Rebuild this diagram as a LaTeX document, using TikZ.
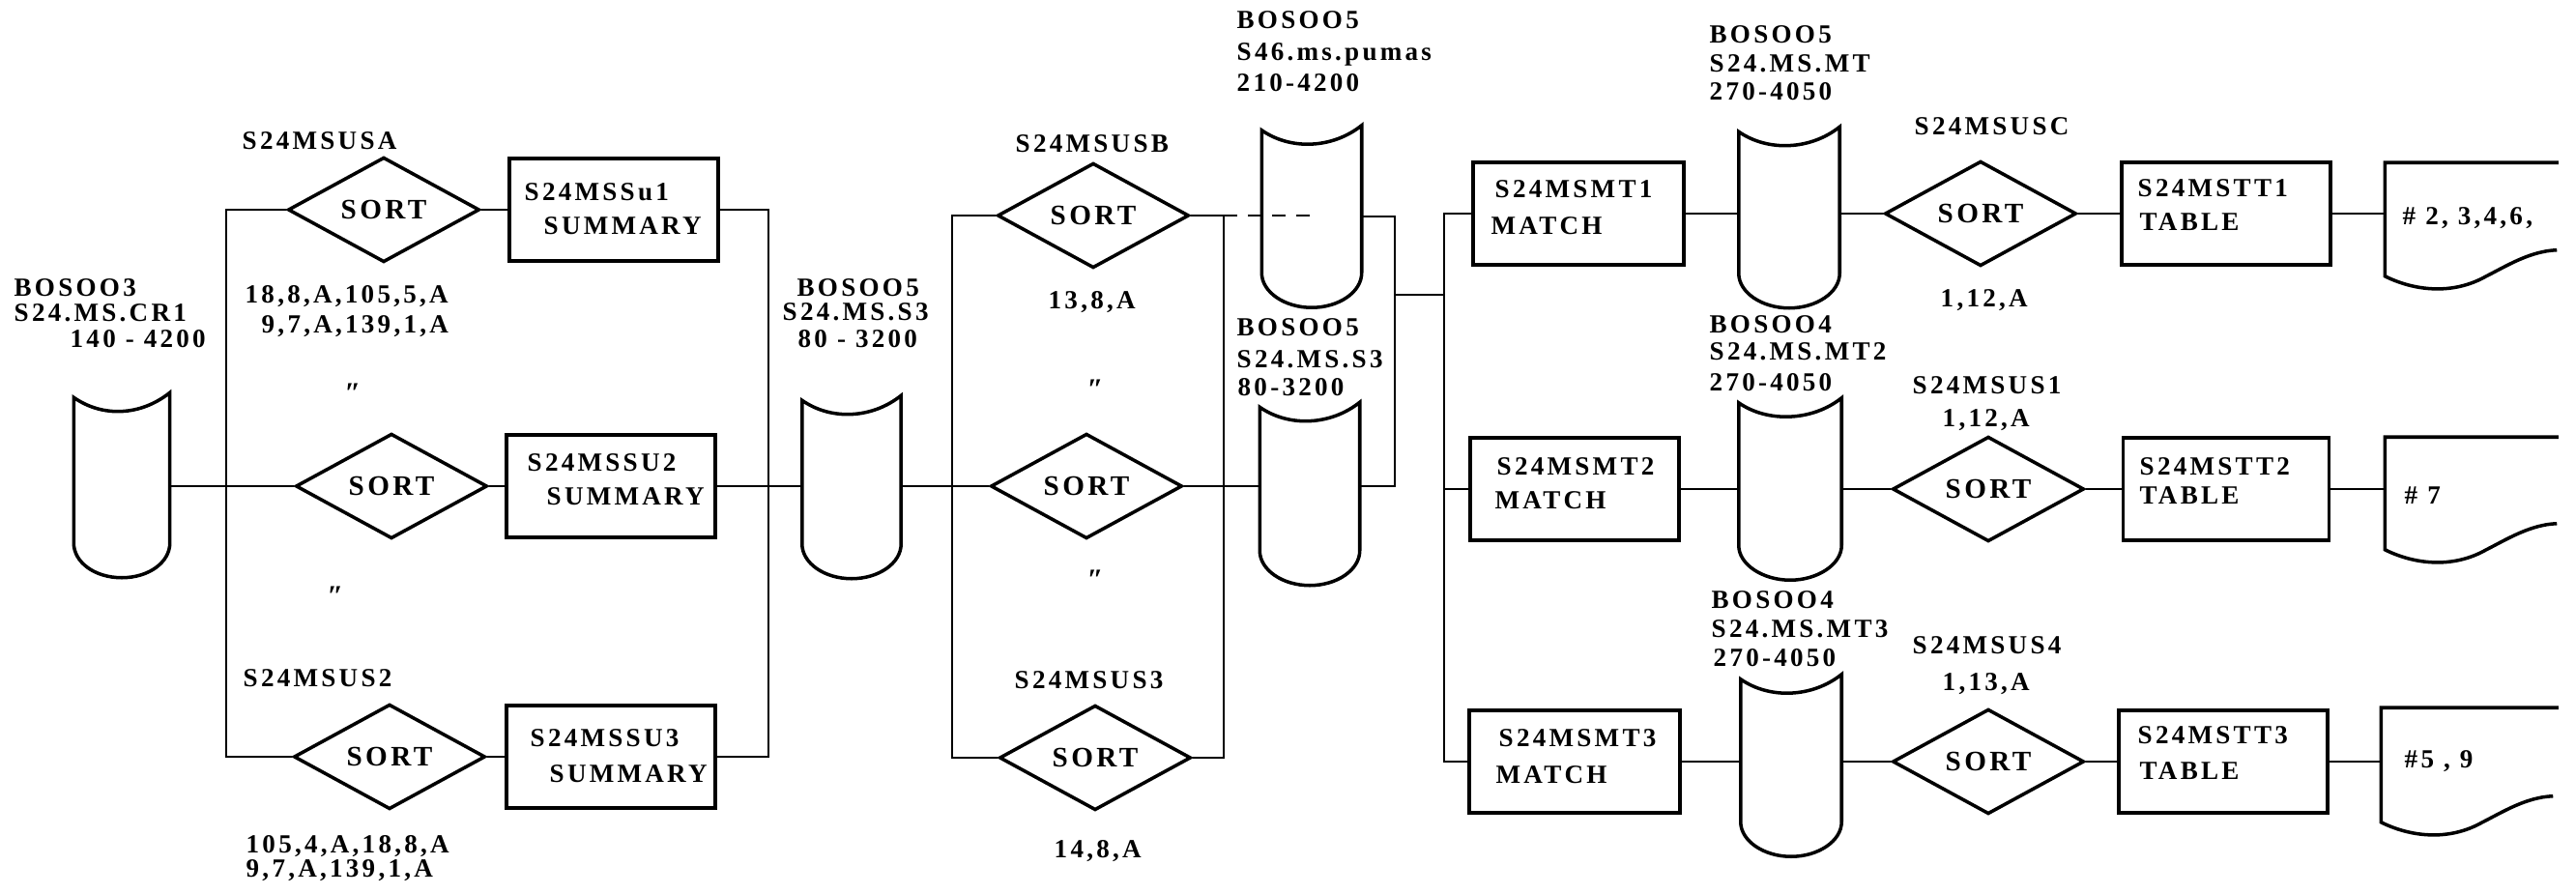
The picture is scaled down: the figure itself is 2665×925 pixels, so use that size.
\documentclass[tikz,border=0pt]{standalone}
\usepackage{fontspec}
\setmainfont{Liberation Serif}[LetterSpace=12]
\usetikzlibrary{shapes.geometric,calc}
\tikzset{
  shp/.style={draw, line width=1.0pt},
  ln/.style={draw, line width=0.75pt},
  boxn/.style={shp, rectangle, minimum height=1.06cm, inner sep=0pt},
  dia/.style={shp, diamond, minimum width=1.98cm, minimum height=0.99cm, inner sep=0pt, font=\fontsize{8.3}{9}\selectfont\bfseries},
  holder/.style={draw=none, rectangle, inner sep=0pt},
  txt/.style={inner sep=0pt, anchor=base west, yshift=-2.6pt, font=\fontsize{7.7}{9}\selectfont\bfseries},
  ditto/.style={inner sep=0pt, font=\fontsize{8.5}{9}\selectfont\bfseries\itshape}
}
\newcommand\tapedraw[1]{%
  \draw[shp] ($(#1.north west)+(0,5)$) .. controls ($(#1.north west)+(30,26)$) and ($(#1.north east)+(-30,24)$) .. (#1.north east)
    -- ($(#1.south east)+(0,-36)$) .. controls ($(#1.south east)+(0,-16)$) and ($(#1.south)+(28,0)$) .. (#1.south)
    .. controls ($(#1.south)+(-28,0)$) and ($(#1.south west)+(0,-16)$) .. ($(#1.south west)+(0,-36)$) -- cycle;}
\newcommand\docdraw[1]{%
  \draw[shp] (#1.north east) -- (#1.north west) -- (#1.south west)
    .. controls ($(#1.south west)+(30,15)$) and ($(#1.south west)+(70,20)$) .. ($(#1.south west)+(105,0)$)
    .. controls ($(#1.south west)+(125,-10)$) and ($(#1.south west)+(150,-26)$) .. ($(#1.south west)+(178,-27)$);}
\begin{document}
\begin{tikzpicture}[x=0.01cm,y=-0.01cm]
\useasboundingbox (0,0) rectangle (2665,925);

% ---------- group 1 ----------
\node[holder, minimum width=0.98cm, minimum height=1.90cm] (t1) at (126,502) {};
\tapedraw{t1}
\node[dia] (d1) at (397,217) {SORT};
\node[dia] (d2) at (405,503) {SORT};
\node[dia] (d3) at (403,783) {SORT};
\node[boxn, minimum width=2.16cm] (b1) at (635,217) {};
\node[boxn, minimum width=2.16cm] (b2) at (632,503) {};
\node[boxn, minimum width=2.16cm] (b3) at (632,783) {};
\coordinate (b1l) at (234,503);
\coordinate (b1r) at (795,503);
\node[holder, minimum width=1.01cm, minimum height=1.88cm] (t2) at (881,504) {};
\tapedraw{t2}

\draw[ln] (t1.east |- d2.west) -- (d2.west);
\draw[ln] (d1.west) -| (b1l) |- (d3.west);
\draw[ln] (d1.east) -- (d1.east -| b1.west);
\draw[ln] (d2.east) -- (d2.east -| b2.west);
\draw[ln] (d3.east) -- (d3.east -| b3.west);
\draw[ln] (b1.east) -| (b1r) |- (b3.east);
\draw[ln] (b2.east) -- (b2.east -| t2.west);

\node[txt] (l1a) at (14,297) {BOSOO3};
\node[txt] (l1b) at (14,323) {S24.MS.CR1};
\node[txt] (l1c) at (72,350) {140 - 4200};
\node[txt] (l2) at (250,145) {S24MSUSA};
\node[txt] (l3a) at (253,304) {18,8,A,105,5,A};
\node[txt] (l3b) at (270,335) {9,7,A,139,1,A};
\node[ditto] (dt1) at (365,407) {″};
\node[ditto] (dt2) at (347,617) {″};
\node[txt] (l4) at (251,701) {S24MSUS2};
\node[txt] (l5a) at (254,873) {105,4,A,18,8,A};
\node[txt] (l5b) at (254,898) {9,7,A,139,1,A};
\node[txt] (b1a) at (542,198) {S24MSSu1};
\node[txt] (b1b) at (562,233) {SUMMARY};
\node[txt] (b2a) at (545,478) {S24MSSU2};
\node[txt] (b2b) at (565,513) {SUMMARY};
\node[txt] (b3a) at (548,763) {S24MSSU3};
\node[txt] (b3b) at (568,800) {SUMMARY};

% ---------- group 2 ----------
\node[dia] (d4) at (1131,223) {SORT};
\node[dia] (d5) at (1124,503) {SORT};
\node[dia] (d6) at (1133,784) {SORT};
\coordinate (b2l) at (985,503);
\coordinate (b2r) at (1266,503);
\node[holder, minimum width=1.02cm, minimum height=1.87cm] (s46) at (1357,224) {};
\tapedraw{s46}
\node[holder, minimum width=1.02cm, minimum height=1.88cm] (t3) at (1355,511) {};
\tapedraw{t3}
\coordinate (j1) at (1443,305);

\draw[ln] (t2.east |- d5.west) -- (d5.west);
\draw[ln] (d4.west) -| (b2l) |- (d6.west);
\draw[ln] (d4.east) -| (b2r) |- (d6.east);
\draw[ln, dash pattern=on 0.14cm off 0.11cm] (d4.east -| b2r) -- (d4.east -| s46.center);
\draw[ln] (d5.east) -- (d5.east -| t3.west);
\draw[ln] (s46.east) -| (j1) |- (t3.east |- d5.east);

\node[txt] (l6a) at (824,297) {BOSOO5};
\node[txt] (l6b) at (809,322) {S24.MS.S3};
\node[txt] (l6c) at (825,350) {80 - 3200};
\node[txt] (l7) at (1050,148) {S24MSUSB};
\node[txt] (l8) at (1084,310) {13,8,A};
\node[ditto] (dt3) at (1133,403) {″};
\node[ditto] (dt4) at (1133,600) {″};
\node[txt] (l9) at (1049,703) {S24MSUS3};
\node[txt] (l10) at (1090,878) {14,8,A};
\node[txt] (l11a) at (1279,20) {BOSOO5};
\node[txt] (l11b) at (1279,53) {S46.ms.pumas};
\node[txt] (l11c) at (1279,85) {210-4200};
\node[txt] (l12a) at (1279,338) {BOSOO5};
\node[txt] (l12b) at (1279,371) {S24.MS.S3};
\node[txt] (l12c) at (1280,400) {80-3200};

% ---------- group 3 ----------
\coordinate (bb3) at (1494,506);
\node[boxn, minimum width=2.18cm] (m1) at (1633,221) {};
\node[boxn, minimum width=2.16cm] (m2) at (1629,506) {};
\node[boxn, minimum width=2.18cm] (m3) at (1629,788) {};
\node[holder, minimum width=1.03cm, minimum height=1.86cm] (mt1) at (1851,225) {};
\tapedraw{mt1}
\node[holder, minimum width=1.05cm, minimum height=1.87cm] (mt2) at (1852,506) {};
\tapedraw{mt2}
\node[holder, minimum width=1.03cm, minimum height=1.87cm] (mt3) at (1853,792) {};
\tapedraw{mt3}
\node[dia] (d7) at (2049,221) {SORT};
\node[dia] (d8) at (2057,506) {SORT};
\node[dia] (d9) at (2057,788) {SORT};
\node[boxn, minimum width=2.16cm] (tt1) at (2303,221) {};
\node[boxn, minimum width=2.13cm] (tt2) at (2303,506) {};
\node[boxn, minimum width=2.16cm] (tt3) at (2300,788) {};
\node[holder, minimum width=1.78cm, minimum height=1.16cm] (doc1) at (2557,227) {};
\docdraw{doc1}
\node[holder, minimum width=1.78cm, minimum height=1.15cm] (doc2) at (2557,510.5) {};
\docdraw{doc2}
\node[holder, minimum width=1.82cm, minimum height=1.17cm] (doc3) at (2555,791.5) {};
\docdraw{doc3}

\draw[ln] (j1) -- (j1 -| bb3);
\draw[ln] (m1.west) -| (bb3) |- (m3.west);
\draw[ln] (bb3) -- (m2.west);
\draw[ln] (m1.east) -- (m1.east -| mt1.west);
\draw[ln] (mt1.east |- d7.west) -- (d7.west);
\draw[ln] (d7.east) -- (d7.east -| tt1.west);
\draw[ln] (tt1.east) -- (tt1.east -| doc1.west);
\draw[ln] (m2.east) -- (m2.east -| mt2.west);
\draw[ln] (mt2.east |- d8.west) -- (d8.west);
\draw[ln] (d8.east) -- (d8.east -| tt2.west);
\draw[ln] (tt2.east) -- (tt2.east -| doc2.west);
\draw[ln] (m3.east) -- (m3.east -| mt3.west);
\draw[ln] (mt3.east |- d9.west) -- (d9.west);
\draw[ln] (d9.east) -- (d9.east -| tt3.west);
\draw[ln] (tt3.east) -- (tt3.east -| doc3.west);

\node[txt] (l13a) at (1768,35) {BOSOO5};
\node[txt] (l13b) at (1768,65) {S24.MS.MT};
\node[txt] (l13c) at (1768,94) {270-4050};
\node[txt] (l14) at (1980,130) {S24MSUSC};
\node[txt] (l15) at (2007,308) {1,12,A};
\node[txt] (l16a) at (1768,335) {BOSOO4};
\node[txt] (l16b) at (1768,363) {S24.MS.MT2};
\node[txt] (l16c) at (1768,395) {270-4050};
\node[txt] (l17a) at (1978,398) {S24MSUS1};
\node[txt] (l17b) at (2009,432) {1,12,A};
\node[txt] (l18a) at (1770,620) {BOSOO4};
\node[txt] (l18b) at (1770,650) {S24.MS.MT3};
\node[txt] (l18c) at (1772,680) {270-4050};
\node[txt] (l19a) at (1978,667) {S24MSUS4};
\node[txt] (l19b) at (2009,705) {1,13,A};
\node[txt] (m1a) at (1546,195) {S24MSMT1};
\node[txt] (m1b) at (1542,233) {MATCH};
\node[txt] (m2a) at (1548,482) {S24MSMT2};
\node[txt] (m2b) at (1546,517) {MATCH};
\node[txt] (m3a) at (1550,763) {S24MSMT3};
\node[txt] (m3b) at (1547,801) {MATCH};
\node[txt] (tt1a) at (2211,194) {S24MSTT1};
\node[txt] (tt1b) at (2213,229) {TABLE};
\node[txt] (tt2a) at (2213,482) {S24MSTT2};
\node[txt] (tt2b) at (2213,512) {TABLE};
\node[txt] (tt3a) at (2211,760) {S24MSTT3};
\node[txt] (tt3b) at (2213,797) {TABLE};
\node[txt] (doc1t) at (2485,223) {\# 2, 3,4,6,};
\node[txt] (doc2t) at (2487,512) {\# 7};
\node[txt] (doc3t) at (2487,785) {\#5 , 9};
\end{tikzpicture}
\end{document}
